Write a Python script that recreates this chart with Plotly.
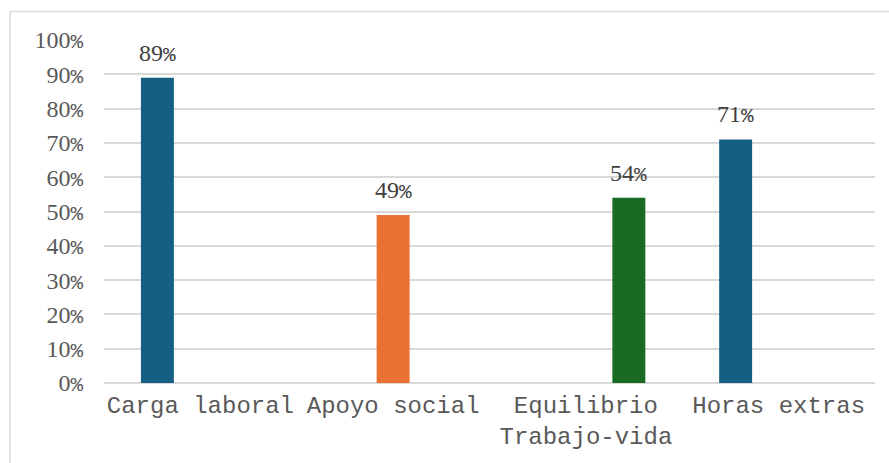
import plotly.graph_objects as go

# Categories and values (share of respondents)
categories = ["Carga laboral", "Apoyo social", "Equilibrio<br>Trabajo-vida", "Horas extras"]
serie_azul = [0.89, None, None, 0.71]
serie_naranja = [None, 0.49, None, None]
serie_verde = [None, None, 0.54, None]
y_ticks = [0, 0.1, 0.2, 0.3, 0.4, 0.5, 0.6, 0.7, 0.8, 0.9, 1.0]

series = [
    ("Serie 1", serie_azul, "#156082"),
    ("Serie 2", serie_naranja, "#E97132"),
    ("Serie 3", serie_verde, "#196B24"),
]

W, H = 889, 463
ML, MR, MT, MB = 104, 14, 40, 75
BARGAP, GROUPGAP = 0.331, 0.233
plot_w = W - ML - MR
plot_h = H - MT - MB

SERIF = "Times New Roman, Liberation Serif, DejaVu Serif, serif"
MONO = "Courier New, Liberation Mono, DejaVu Sans Mono, monospace"


def pct(v):
    # percentage text; the percent sign uses a narrow monospace glyph
    return (f"{round(v * 100)}<span style=\"font-family:'Liberation Mono';"
            f"font-size:21px\">%</span>")


fig = go.Figure()
for name, vals, color in series:
    fig.add_trace(go.Bar(
        x=categories, y=vals, name=name,
        marker=dict(color=color, line=dict(width=0)),
        hoverinfo="skip",
    ))

# value labels above each bar, shifted to the bar's slot within its group
slot_px = plot_w / len(categories) * (1 - BARGAP) / len(series)
annotations = []
for i, (name, vals, color) in enumerate(series):
    for cat, v in zip(categories, vals):
        if v is None:
            continue
        annotations.append(dict(
            x=cat, y=v, xref="x", yref="y",
            text=pct(v),
            showarrow=False, yanchor="bottom",
            xshift=(i - 1) * slot_px, yshift=9,
            font=dict(family=SERIF, size=24, color="#404040"),
        ))

# chart-area frame (top and left edges visible)
fx0 = (10 - ML) / plot_w
fy1 = (H - MB - 11) / plot_h
frame = dict(color="#d9d9d9", width=1.5)
shapes = [
    dict(type="line", xref="paper", yref="paper", x0=fx0, x1=1.2, y0=fy1, y1=fy1, line=frame),
    dict(type="line", xref="paper", yref="paper", x0=fx0, x1=fx0, y0=-0.3, y1=fy1, line=frame),
]

fig.update_layout(
    width=W, height=H,
    margin=dict(l=ML, r=MR, t=MT, b=MB),
    paper_bgcolor="white", plot_bgcolor="white",
    barmode="group", bargap=BARGAP, bargroupgap=GROUPGAP,
    showlegend=False,
    annotations=annotations,
    shapes=shapes,
    xaxis=dict(
        showgrid=False, zeroline=False, showline=False, ticks="",
        tickfont=dict(family=MONO, size=24, color="#595959"),
        ticklabelstandoff=5,
    ),
    yaxis=dict(
        range=[0, 1.0], tickvals=y_ticks,
        ticktext=[pct(t) for t in y_ticks],
        showgrid=True, gridcolor="#d9d9d9", gridwidth=1.5,
        zeroline=True, zerolinecolor="#d9d9d9", zerolinewidth=1.5,
        showline=False, ticks="",
        tickfont=dict(family=SERIF, size=24, color="#595959"),
        ticklabelstandoff=20,
    ),
)

fig.write_html("out.html")
